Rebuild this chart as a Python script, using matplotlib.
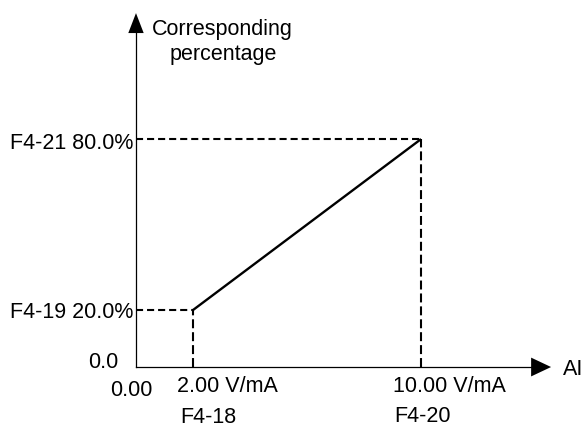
import matplotlib
matplotlib.use('Agg')
import matplotlib.pyplot as plt

plt.rcParams['font.family'] = ['Liberation Sans', 'DejaVu Sans']

# AI input (V/mA) and corresponding percentage at the two set points
x_points = [2.0, 10.0]        # F4-18, F4-20
y_points = [20.0, 80.0]       # F4-19, F4-21
x_labels = ['2.00 V/mA', '10.00 V/mA']
x_codes = ['F4-18', 'F4-20']
y_labels = ['F4-19 20.0%', 'F4-21 80.0%']
x_zero_label = '0.00'
y_zero_label = '0.0'
y_title = ['Corresponding', 'percentage']
x_title = 'AI'

# axis extents (data units)
x_axis_len = 13.86
x_tip = 14.56
y_axis_len = 117.2
y_tip = 124.2

fs = 15.5
fig = plt.figure(figsize=(5.87, 4.29), dpi=100)
ax = fig.add_axes([0, 0, 1, 1])
ax.set_xlim(-4.77, 15.82)
ax.set_ylim(-21.75, 128.8)
ax.axis('off')

# axes with arrow heads
ax.plot([0, x_axis_len], [0, 0], color='black', lw=0.9)
ax.plot([0, 0], [0, y_axis_len], color='black', lw=0.9)
ax.fill([x_axis_len, x_tip, x_axis_len], [-3.3, 0, 3.3], color='black', lw=0)
ax.fill([-0.27, 0, 0.27], [y_axis_len, y_tip, y_axis_len], color='black', lw=0)

# characteristic line
ax.plot(x_points, y_points, color='black', lw=1.7, solid_capstyle='butt')

# dashed guides
for xv, yv in zip(x_points, y_points):
    ax.plot([0, xv], [yv, yv], color='black', lw=1.5, dashes=(3.4, 1.9))
    ax.plot([xv, xv], [0, yv], color='black', lw=1.5, dashes=(4.3, 1.9))

# labels
y_offsets = [(-3, -8), (-3, -10)]
for yv, lab, off in zip(y_points, y_labels, y_offsets):
    ax.annotate(lab, (0, yv), xytext=off, textcoords='offset pixels',
                ha='right', va='baseline', fontsize=fs)

x_offsets = [(-16, -25), (-28, -25)]
code_offsets = [(-13, -56), (-27, -55)]
for xv, lab, code, off, coff in zip(x_points, x_labels, x_codes, x_offsets, code_offsets):
    ax.annotate(lab, (xv, 0), xytext=off, textcoords='offset pixels',
                ha='left', va='baseline', fontsize=fs)
    ax.annotate(code, (xv, 0), xytext=coff, textcoords='offset pixels',
                ha='left', va='baseline', fontsize=fs)

ax.annotate(y_zero_label, (0, 0), xytext=(-18, -1), textcoords='offset pixels',
            ha='right', va='baseline', fontsize=fs)
ax.annotate(x_zero_label, (0, 0), xytext=(17, -29), textcoords='offset pixels',
            ha='right', va='baseline', fontsize=fs)
ax.annotate(x_title, (x_tip, 0), xytext=(12, -8), textcoords='offset pixels',
            ha='left', va='baseline', fontsize=fs)
ax.annotate(y_title[0], (0, y_tip), xytext=(16, -22), textcoords='offset pixels',
            ha='left', va='baseline', fontsize=fs)
ax.annotate(y_title[1], (0, y_tip), xytext=(87, -47), textcoords='offset pixels',
            ha='center', va='baseline', fontsize=fs)

fig.savefig('out.png', dpi=100)
